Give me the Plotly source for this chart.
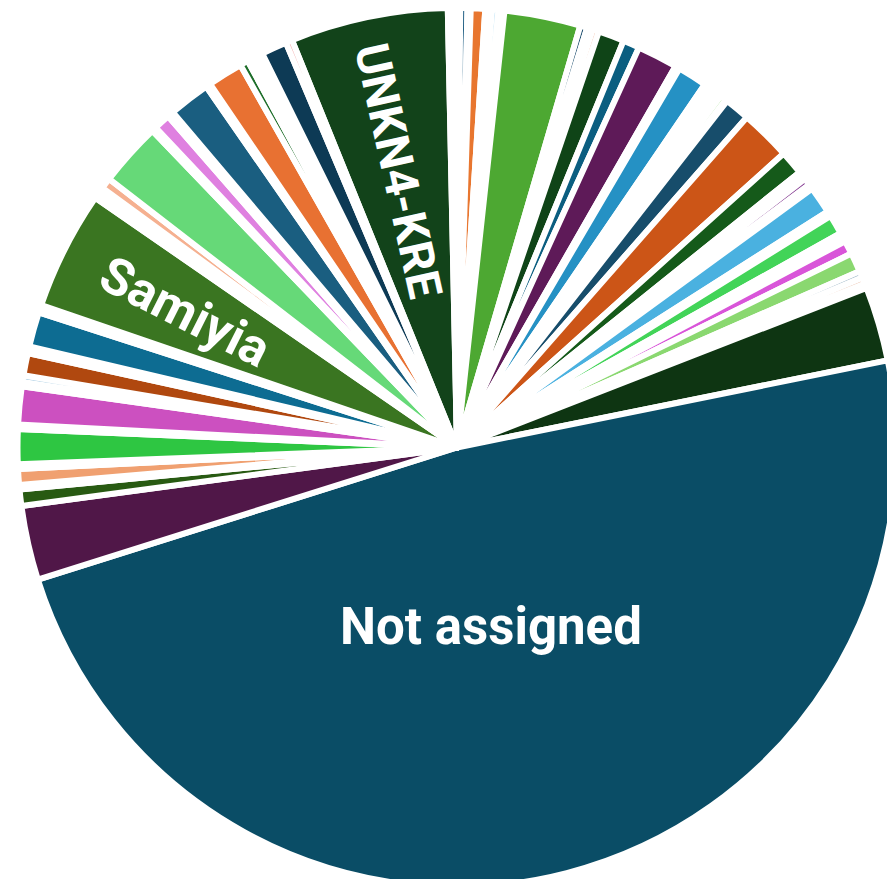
import plotly.graph_objects as go

# Slices listed clockwise, starting with UNKN4-KRE at the top.
labels = [
    "UNKN4-KRE", "t01", "t02", "t03", "g05", "t04", "g07", "t05", "t06", "g10",
    "t07", "t08", "g13", "g14", "t09", "t10", "g17", "g18", "g19", "g20",
    "t11", "g22", "t12", "t13", "t14", "t15", "t16", "g28", "t17", "g30",
    "g31", "g32", "t18", "t19", "g35", "t20", "g37", "t21", "g39", "t22",
    "t23", "g42", "g43", "g44", "g45", "t24", "g47", "Not assigned", "g49", "g50",
    "t25", "g52", "t26", "g54", "t27", "g56", "t28", "g58", "g59", "t29",
    "t30", "g62", "t31", "t32", "Samiyia", "t33", "t34", "t35", "g69", "g70",
    "t36", "g72", "t37", "t38", "g75", "t39", "g77", "g78", "t40", "t41",
    "t42", "t43", "g83", "g84",
]
values = [
    20.86, 0.54, 0.54, 0.54, 0.95, 0.425, 1.9, 0.44, 0.44, 0.85,
    0.39, 0.39, 10.09, 0.94, 0.375, 0.375, 0.85, 3.43, 2.2, 5.35,
    0.6, 3.9, 0.515, 0.515, 0.515, 0.515, 0.515, 0.85, 0.19, 3.34,
    6.75, 3.2, 0.56, 0.56, 0.95, 0.625, 3.6, 0.7, 2.6, 0.6,
    0.6, 1.8, 2.54, 0.91, 0.875, 0.575, 9.85, 173.95, 9.85, 2.15,
    0.6, 2.1, 0.6, 4.6, 0.6, 5.0, 0.575, 0.89, 2.94, 0.45,
    0.45, 4.6, 0.5, 0.5, 15.7, 0.533, 0.533, 0.533, 1.45, 8.45,
    0.6, 2.2, 0.4, 0.4, 5.5, 0.6, 4.66, 1.11, 0.53, 0.53,
    0.53, 0.53, 3.39, 0.85,
]
W = "#ffffff"
colors = [
    "#12431a", W, W, W, "#1a5a80", W, "#e8762f", W, W, "#a8d8f0",
    W, W, "#4da832", "#1d4e6e", W, W, "#f0b8a0", "#0f4417", "#0b5e80", "#5e1a58",
    W, "#2591c4", W, W, W, W, W, "#b8e8a8", W, "#174d6b",
    "#cc5517", "#155a1a", W, W, "#8e4a9a", W, "#4ab1e0", W, "#42d458", W,
    W, "#d955d9", "#8ad870", "#a0b8c8", "#e8b8a0", W, "#0e3512", "#0a4d66", "#501748", "#285a12",
    W, "#f0a070", W, "#2ec642", W, "#cc50c0", W, "#a0c8e0", "#b0480f", W,
    W, "#0d6c92", W, W, "#3a7521", W, W, W, "#f5b090", "#66d978",
    W, "#df80e0", W, W, "#1a5e80", W, "#e87132", "#1e6e2a", W, W,
    W, W, "#0d3a55", "#f0a0a0",
]

# Labels written on the three largest named slices
label_text = ["Not assigned", "Samiyia", "UNKN4-KRE"]

FIG_W, FIG_H = 895, 879
M_L, M_R, M_T, M_B = 5, 2, 0, 0
PW, PH = FIG_W - M_L - M_R, FIG_H - M_T - M_B

fig = go.Figure(
    go.Pie(
        labels=labels,
        values=values,
        textinfo="none",
        marker=dict(colors=colors, line=dict(color="white", width=6)),
        sort=False,
        direction="clockwise",
        rotation=-22.06,
        hoverinfo="label+percent",
    )
)

# label placement: offset from the pie centre in pixels (dx right, dy down), angle, size
placements = [
    (33.5, 178.5, 0, 51),
    (-272, -136.5, 26.75, 51),
    (-58, -277.5, 77.5, 47),
]
for txt, (dx, dy, ang, sz) in zip(label_text, placements):
    fig.add_annotation(
        x=0.5 + dx / PW, y=0.5 - dy / PH, xref="paper", yref="paper",
        text=txt, showarrow=False, textangle=ang,
        xanchor="center", yanchor="middle",
        font=dict(family="Roboto", size=sz, color="white", weight="bold"),
    )

fig.update_layout(
    width=FIG_W,
    height=FIG_H,
    margin=dict(l=M_L, r=M_R, t=M_T, b=M_B),
    showlegend=False,
    paper_bgcolor="white",
    plot_bgcolor="white",
)
fig.write_html("out.html")
